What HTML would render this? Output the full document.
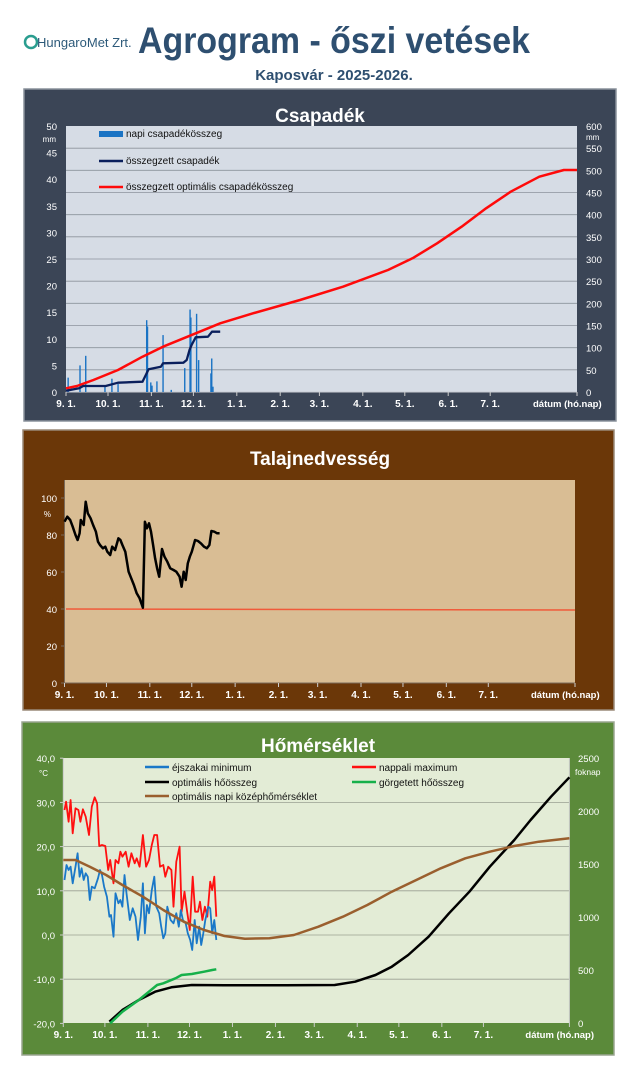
<!DOCTYPE html>
<html><head><meta charset="utf-8"><style>
html,body{margin:0;padding:0;background:#fff;}
svg{display:block;font-family:"Liberation Sans",sans-serif;}
</style></head><body>
<svg id="s" width="640" height="1075" viewBox="0 0 640 1075" xmlns="http://www.w3.org/2000/svg">
<!-- header -->
<g>
<circle cx="31" cy="42" r="6" fill="none" stroke="#2a9d8f" stroke-width="2.5"/>
<text x="37" y="47" font-size="13" fill="#2d5a7a" font-family="Liberation Sans Narrow, Liberation Sans, sans-serif">HungaroMet Zrt.</text>
<text x="334" y="53" text-anchor="middle" font-size="37" font-weight="bold" fill="#2e4f70" textLength="392" lengthAdjust="spacingAndGlyphs">Agrogram - őszi vetések</text>
<text x="334" y="80" text-anchor="middle" font-size="15" font-weight="bold" fill="#2e4f70">Kaposvár  - 2025-2026.</text>
</g>
<!-- panel 1 -->
<rect x="24" y="89" width="592" height="332" fill="#3b4556" stroke="#8a929c" stroke-width="1.5"/>
<text x="320" y="122" text-anchor="middle" font-size="19" font-weight="bold" fill="#fff">Csapadék</text>
<rect x="66" y="126" width="511" height="266" fill="#d6dce5"/>
<g id="p1grid" stroke="#8c939c" stroke-width="0.8"></g>
<g id="p1"></g>
<!-- panel 2 -->
<rect x="23" y="430" width="591" height="280" fill="#6b3708" stroke="#9a8a78" stroke-width="1.5"/>
<text x="320" y="465" text-anchor="middle" font-size="19" font-weight="bold" fill="#fff">Talajnedvesség</text>
<rect x="64.5" y="480" width="510.5" height="203" fill="#d9bd94"/>
<g id="p2"></g>
<!-- panel 3 -->
<rect x="22" y="722" width="592" height="333" fill="#5b8a3a" stroke="#9aa590" stroke-width="1.5"/>
<text x="318" y="752" text-anchor="middle" font-size="19" font-weight="bold" fill="#fff">Hőmérséklet</text>
<rect x="63.3" y="758" width="506" height="265" fill="#e3ecd6"/>
<g id="p3"></g>
</svg>
<script>
var NS="http://www.w3.org/2000/svg";
function el(parent,tag,attrs,txt){var e=document.createElementNS(NS,tag);for(var k in attrs)e.setAttribute(k,attrs[k]);if(txt!==undefined)e.textContent=txt;document.getElementById(parent).appendChild(e);return e;}
function path(pts,fx,fy){var d="";for(var i=0;i<pts.length;i+=2){d+=(i?"L":"M")+fx(pts[i]).toFixed(1)+","+fy(pts[i+1]).toFixed(1);}return d;}
var months=["9. 1.","10. 1.","11. 1.","12. 1.","1. 1.","2. 1.","3. 1.","4. 1.","5. 1.","6. 1.","7. 1."];
var mdays=[0,30,61,91,122,153,181,212,242,273,303];
function xticks(g,x0,x1,y,col){var W=x1-x0;for(var i=0;i<months.length;i++){var x=x0+mdays[i]*W/365;el(g,"line",{x1:x,y1:y,x2:x,y2:y+4,stroke:col,"stroke-width":1});el(g,"text",{x:x,y:y+15,"text-anchor":"middle","font-size":10,"font-weight":"bold",fill:"#fff"},months[i]);}
el(g,"line",{x1:x1,y1:y,x2:x1,y2:y+4,stroke:col,"stroke-width":1});
el(g,"text",{x:x1+3,y:y+15,"font-size":9.5,"font-weight":"bold",fill:"#fff","text-anchor":"start"},"dátum (hó.nap)").setAttribute("x",x1-44);}
// ---------- Panel 1
(function(){
var X=function(zx){return 66+(zx-163)*0.4091;},Y=function(zy){return zy/3;};
for(var i=1;i<12;i++){var y=392-i*266/12;el("p1grid","line",{x1:66,y1:y,x2:577,y2:y});}
el("p1","line",{x1:66,y1:392,x2:577,y2:392,stroke:"#c8ccd2","stroke-width":1});
for(var v=0;v<=50;v+=5){var y=392-v*5.32;el("p1","text",{x:57,y:y+4,"text-anchor":"end","font-size":9.5,fill:"#fff"},v);}
el("p1","text",{x:56,y:142,"text-anchor":"end","font-size":8,fill:"#fff"},"mm");
for(var v=0;v<=600;v+=50){var y=392-v*266/600;el("p1","text",{x:586,y:y+4,"font-size":9.5,fill:"#fff"},v);}
el("p1","text",{x:586,y:140,"font-size":8,fill:"#fff"},"mm");
xticks("p1",66,577,392,"#ccc");
var bars=[168,2.7,197,5,211,6.8,258,1,275,2.5,290,1.5,360,13.5,362,12.3,370,1.8,373,1.2,385,2,400,10.7,420,0.4,453,4.5,466,15.5,468,14,482,14.7,487,6,517,3.5,519,6.3,522,1];
for(var i=0;i<bars.length;i+=2){var h=bars[i+1]*5.32;el("p1","rect",{x:X(bars[i])-0.6,y:392-h,width:1.4,height:h,fill:"#1a73c4"});}
var opt=[163,1165,190,1158,230,1140,290,1110,350,1070,400,1040,460,1010,540,970,620,940,735,900,840,860,950,810,1010,775,1070,730,1130,680,1190,625,1250,575,1320,530,1380,510,1412,510];
el("p1","path",{d:path(opt,X,Y),fill:"none",stroke:"#ff0a0a","stroke-width":2.5,"stroke-linejoin":"round"});
var cum=[163,1172,195,1165,205,1158,260,1158,290,1148,350,1145,358,1125,365,1108,395,1100,400,1090,450,1088,458,1080,465,1050,470,1035,480,1012,510,1010,520,995,540,995];
el("p1","path",{d:path(cum,X,Y),fill:"none",stroke:"#0a1f5c","stroke-width":2.3,"stroke-linejoin":"round"});
el("p1","rect",{x:99,y:131,width:24,height:6,fill:"#1a73c4"});
el("p1","text",{x:126,y:137,"font-size":10,fill:"#111"},"napi csapadékösszeg");
el("p1","line",{x1:99,y1:161,x2:123,y2:161,stroke:"#0a1f5c","stroke-width":2.5});
el("p1","text",{x:126,y:164,"font-size":10,fill:"#111"},"összegzett csapadék");
el("p1","line",{x1:99,y1:187,x2:123,y2:187,stroke:"#ff0a0a","stroke-width":2.5});
el("p1","text",{x:126,y:190,"font-size":10,fill:"#111"},"összegzett optimális csapadékösszeg");
})();
// ---------- Panel 2
(function(){
var X=function(zx){return zx/2.45;},Y=function(zy){return 425+zy/3;};
el("p2","line",{x1:64.5,y1:480,x2:64.5,y2:683,stroke:"#7a6a5a","stroke-width":1});
el("p2","line",{x1:64.5,y1:683,x2:575,y2:683,stroke:"#7a6a5a","stroke-width":1});
for(var v=0;v<=100;v+=20){var y=683-v*1.85;el("p2","text",{x:57,y:y+4,"text-anchor":"end","font-size":9.5,fill:"#fff"},v);el("p2","line",{x1:61,y1:y,x2:64.5,y2:y,stroke:"#7a6a5a"});}
el("p2","text",{x:51,y:517,"text-anchor":"end","font-size":8,fill:"#fff"},"%");
xticks("p2",64.5,575,683,"#ccc");
el("p2","line",{x1:66,y1:609,x2:575,y2:610,stroke:"#f05a3a","stroke-width":1.5});
var s=[158,290,165,275,172,285,178,305,185,330,190,345,195,325,198,285,205,300,210,230,215,265,222,280,228,300,235,320,240,350,245,360,252,370,258,365,263,380,270,390,275,365,282,375,290,340,295,345,300,360,307,380,315,440,320,455,328,480,335,505,342,520,350,548,355,290,360,310,365,295,370,320,375,360,380,400,385,430,390,455,397,372,403,395,410,410,417,430,425,435,432,440,440,455,445,485,450,440,455,465,460,415,465,395,470,380,478,345,485,348,492,355,500,365,507,370,513,360,518,318,525,320,532,325,538,325];
el("p2","path",{d:path(s,X,Y),fill:"none",stroke:"#000","stroke-width":2.5,"stroke-linejoin":"round"});
})();
// ---------- Panel 3
(function(){
var X=function(zx){return zx/2.45;},Y=function(zy){return 720+zy/3;};
for(var v=-20;v<=40;v+=10){var y=935-v*4.42;if(v>-20&&v<40)el("p3","line",{x1:63.3,y1:y,x2:569.4,y2:y,stroke:"#9aa092","stroke-width":0.8});
el("p3","text",{x:55,y:y+4,"text-anchor":"end","font-size":9.5,fill:"#fff"},(v===0?"0,0":(v+",0")));el("p3","line",{x1:60,y1:y,x2:63.3,y2:y,stroke:"#ccc"});}
el("p3","text",{x:48,y:776,"text-anchor":"end","font-size":8,fill:"#fff"},"°C");
for(var v=0;v<=2500;v+=500){var y=1023-v*265/2500;el("p3","text",{x:578,y:y+4,"font-size":9.5,fill:"#fff"},v);}
el("p3","text",{x:575,y:775,"font-size":8.5,fill:"#fff"},"foknap");
el("p3","line",{x1:63.3,y1:758,x2:63.3,y2:1023,stroke:"#ccc"});
el("p3","line",{x1:569.4,y1:758,x2:569.4,y2:1023,stroke:"#ccc"});
xticks("p3",63.3,569.4,1023,"#ccc");
var br=[155,420,185,420,220,440,260,465,300,495,350,530,400,570,450,605,500,630,550,648,600,656,660,655,720,645,780,620,840,590,900,555,960,515,1020,480,1080,445,1140,415,1200,395,1260,378,1320,365,1395,355];
var bk=[268,905,300,870,340,840,380,815,420,802,470,795,550,796,700,796,820,795,870,785,920,765,960,740,1000,705,1050,650,1100,580,1150,515,1200,440,1260,360,1300,300,1350,230,1395,172];
var gr=[270,910,300,875,340,840,370,810,385,795,400,790,430,775,445,765,470,762,500,755,520,750,530,748];
var rd=[158,270,162,245,168,305,173,240,178,340,185,265,192,270,197,305,203,268,210,290,218,345,225,260,232,232,238,250,243,378,250,375,258,378,265,450,270,420,278,490,283,420,290,430,295,395,300,410,308,395,315,440,322,400,330,430,335,415,342,440,350,345,358,440,365,420,372,375,378,345,385,345,392,440,400,435,405,470,412,440,420,450,425,560,432,425,440,380,445,575,452,515,458,570,465,630,472,470,478,575,485,575,490,545,496,600,502,560,508,590,515,485,520,510,525,470,530,590];
var bl=[158,480,163,435,168,450,173,440,178,490,185,440,190,400,195,470,200,445,205,480,210,460,215,470,220,540,225,500,232,505,240,475,245,450,250,465,255,500,262,530,268,590,272,585,278,650,283,520,290,550,295,540,300,560,305,465,310,520,318,600,325,565,332,590,338,660,345,590,350,490,355,640,360,555,365,580,372,510,378,470,383,560,390,580,395,620,400,655,405,640,410,560,418,600,425,610,432,580,438,620,443,570,448,600,455,610,460,640,466,660,471,690,477,600,482,670,488,620,493,675,498,640,503,600,510,560,515,565,520,640,525,600,530,660];
el("p3","path",{d:path(rd,X,Y),fill:"none",stroke:"#ff1010","stroke-width":1.8,"stroke-linejoin":"round"});
el("p3","path",{d:path(bl,X,Y),fill:"none",stroke:"#1a78c8","stroke-width":1.8,"stroke-linejoin":"round"});
el("p3","path",{d:path(bk,X,Y),fill:"none",stroke:"#000","stroke-width":2.5,"stroke-linejoin":"round"});
el("p3","path",{d:path(gr,X,Y),fill:"none",stroke:"#16b04a","stroke-width":2.5,"stroke-linejoin":"round"});
el("p3","path",{d:path(br,X,Y),fill:"none",stroke:"#9a5f2e","stroke-width":2.5,"stroke-linejoin":"round"});
var leg=[[145,767,"#1a78c8","éjszakai minimum"],[352,767,"#ff1010","nappali maximum"],[145,782,"#000","optimális hőösszeg"],[352,782,"#16b04a","görgetett hőösszeg"],[145,796,"#9a5f2e","optimális napi középhőmérséklet"]];
leg.forEach(function(l){el("p3","line",{x1:l[0],y1:l[1],x2:l[0]+24,y2:l[1],stroke:l[2],"stroke-width":2.5});el("p3","text",{x:l[0]+27,y:l[1]+4,"font-size":10,fill:"#111"},l[3]);});
})();
</script>
</body></html>
